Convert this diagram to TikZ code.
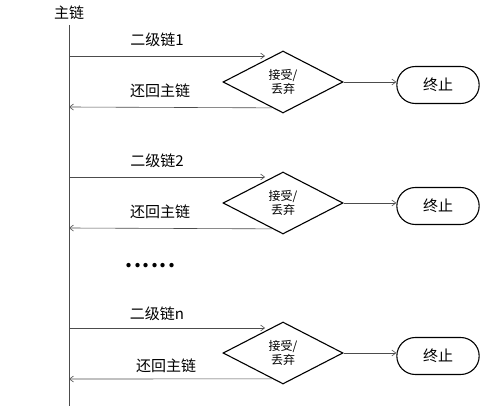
\documentclass[tikz,border=0pt]{standalone}
\usepackage{fontspec}
\setmainfont{Noto Sans CJK SC}
\usetikzlibrary{shapes.geometric,shapes.misc,arrows.meta,calc}
\begin{document}
\begin{tikzpicture}[x=1pt,y=-1pt,
  conn/.style={draw=black!70,line width=0.6pt},
  arr/.style={conn,-{Straight Barb[length=4pt,width=6pt]}},
  decide/.style={diamond,draw=black,line width=1.1pt,minimum width=120pt,minimum height=62pt,aspect=1.94,inner sep=0pt,font=\fontsize{12}{13.5}\selectfont,align=center},
  stopbox/.style={rounded rectangle,draw=black,line width=1.1pt,minimum width=89pt,minimum height=37pt,font=\fontsize{15}{17}\selectfont},
  lbl/.style={font=\fontsize{15}{17}\selectfont,inner sep=0pt}]
\useasboundingbox (0,0) rectangle (500,406);
\node[lbl] (main) at (69,13) {主链};
\coordinate (mtop) at (69,25);
\coordinate (mbot) at (69,406);
\draw[conn] (mtop) -- (mbot);
% block 1
\node[decide] (d1) at (283,82) {接受/\\丢弃};
\node[stopbox] (s1) at (438,85) {终止};
\coordinate (a1s) at (69,56);
\coordinate (a1e) at (265,56);
\coordinate (r1e) at (69,107);
\draw[arr] (a1s) -- (a1e);
\draw[arr] ($(d1.west)!0.82!(d1.south)$) -- (r1e);
\draw[arr] (d1.east) -- (s1.west |- d1.east);
\node[lbl] (l1a) at (157,40) {二级链1};
\node[lbl] (l1b) at (160,91) {还回主链};
% block 2
\node[decide] (d2) at (283,203) {接受/\\丢弃};
\node[stopbox] (s2) at (438,206) {终止};
\coordinate (a2s) at (69,177);
\coordinate (a2e) at (265,177);
\coordinate (r2e) at (69,228);
\draw[arr] (a2s) -- (a2e);
\draw[arr] ($(d2.west)!0.82!(d2.south)$) -- (r2e);
\draw[arr] (d2.east) -- (s2.west |- d2.east);
\node[lbl] (l2a) at (157,161) {二级链2};
\node[lbl] (l2b) at (160,212) {还回主链};
% dots
\node[font=\bfseries\fontsize{20}{22}\selectfont,inner sep=0pt] (dots) at (150.5,266) {.\kern1.5pt.\kern1.5pt.\kern1.5pt.\kern1.5pt.\kern1.5pt.};
% block 3
\node[decide] (d3) at (283,353) {接受/\\丢弃};
\node[stopbox] (s3) at (438,356) {终止};
\coordinate (a3s) at (69,328);
\coordinate (a3e) at (265,328);
\coordinate (r3e) at (69,379);
\draw[arr] (a3s) -- (a3e);
\draw[arr] ($(d3.west)!0.82!(d3.south)$) -- (r3e);
\draw[arr] (d3.east) -- (s3.west |- d3.east);
\node[lbl] (l3a) at (157,314) {二级链n};
\node[lbl] (l3b) at (166,366) {还回主链};
\end{tikzpicture}
\end{document}
